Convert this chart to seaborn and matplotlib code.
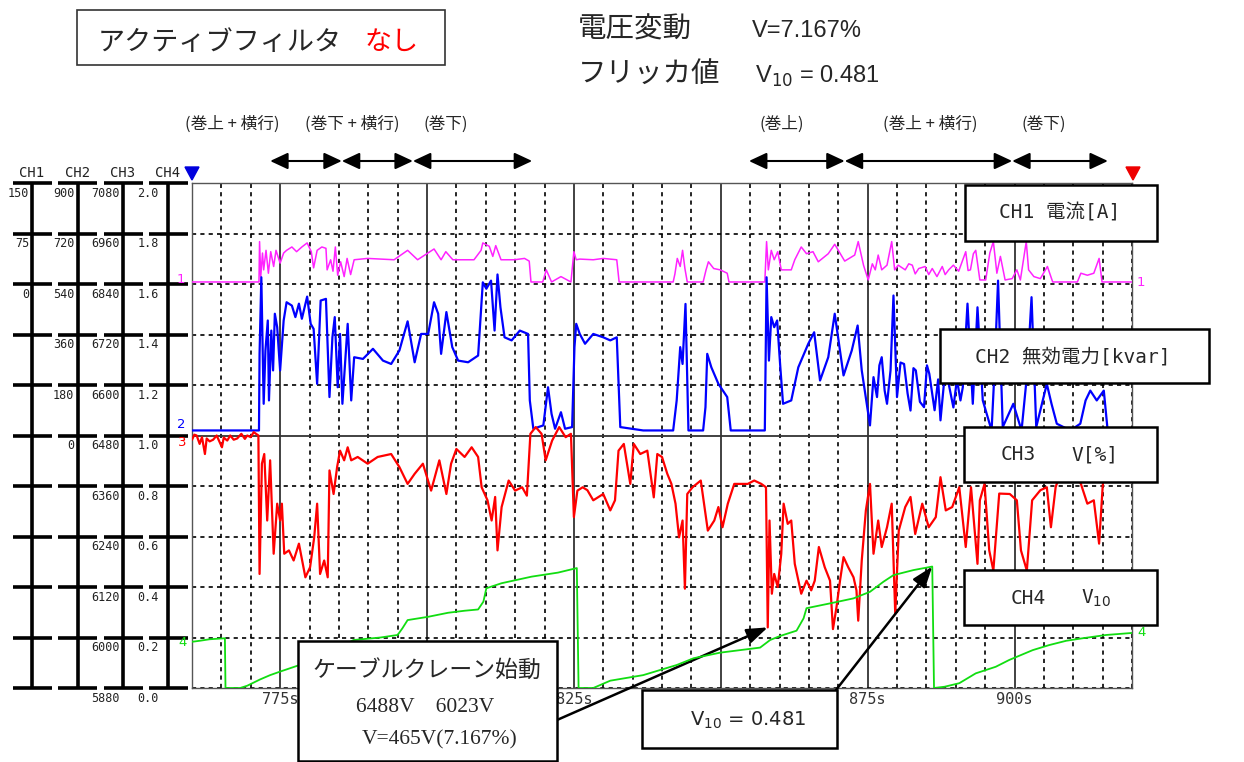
import matplotlib
matplotlib.use("Agg")
import matplotlib.pyplot as plt
import seaborn as sns
import pandas as pd
from matplotlib.patches import Rectangle, Polygon
from matplotlib.ticker import FixedLocator, MultipleLocator

# === data (time [s], value in channel unit) ===
# CH1 current [A]
ch1_points = [
    (760.0, 3), (771.4, 3), (771.5, 63), (771.7, 11), (772.0, 46), (772.2, 21), (772.6, 50),
    (773.0, 16), (773.4, 48), (773.9, 26), (774.3, 50), (775.0, 31), (775.6, 46), (776.1, 50),
    (777.0, 55), (777.8, 48), (778.7, 55), (779.6, 61), (780.3, 48), (780.7, 24), (781.3, 50),
    (782.1, 55), (782.8, 53), (783.0, 21), (783.6, 36), (784.0, 19), (784.4, 55), (784.8, 13),
    (785.3, 33), (785.9, 11), (786.4, 38), (787.0, 14), (787.6, 36), (789.9, 38), (794.4, 36),
    (796.7, 50), (798.4, 36), (801.2, 52), (802.4, 36), (803.2, 48), (804.4, 36), (808.0, 36),
    (809.2, 50), (809.5, 61), (810.6, 56), (811.2, 41), (811.7, 57), (812.6, 36), (814.9, 36),
    (816.6, 38), (817.4, 34), (817.7, 3), (819.7, 3), (820.3, 21), (820.8, 11), (821.2, 3),
    (822.8, 11), (824.5, 3), (825.0, 48), (825.4, 36), (826.0, 37), (828.3, 36), (830.0, 38),
    (832.3, 36), (832.7, 3), (841.9, 3), (842.2, 15), (842.6, 38), (843.1, 26), (843.5, 50),
    (843.9, 23), (844.3, 3), (847.0, 3), (847.5, 21), (847.9, 33), (848.8, 23), (849.9, 21),
    (851.1, 16), (851.4, 3), (857.5, 3), (857.8, 63), (858.1, 21), (858.6, 50), (859.1, 36),
    (859.7, 48), (860.3, 21), (862.0, 21), (862.6, 36), (863.7, 55), (864.6, 45), (865.7, 48),
    (866.6, 33), (868.3, 45), (869.4, 59), (871.1, 34), (872.8, 43), (873.4, 63), (874.3, 28),
    (875.1, 6), (875.8, 30), (876.3, 21), (876.8, 43), (877.4, 21), (878.3, 28), (879.1, 63),
    (879.6, 21), (880.2, 28), (881.4, 21), (882.0, 30), (882.6, 28), (883.1, 15), (883.7, 23),
    (884.8, 26), (885.4, 14), (886.0, 23), (886.8, 11), (887.7, 26), (888.2, 14), (888.8, 21),
    (889.6, 28), (890.5, 19), (891.7, 48), (892.1, 20), (892.5, 21), (893.0, 45), (893.4, 50),
    (894.1, 6), (895.1, 6), (895.8, 46), (896.4, 63), (897.0, 16), (897.6, 41), (898.4, 6),
    (899.6, 8), (900.4, 21), (901.0, 6), (902.0, 63), (902.4, 21), (903.3, 11), (904.4, 8),
    (905.6, 26), (906.5, 3), (910.7, 3), (911.3, 16), (912.4, 13), (913.5, 16), (914.4, 38),
    (914.9, 3), (920.0, 3),
]

# CH2 reactive power [kvar]
ch2_points = [
    (760.0, 18), (771.4, 18), (771.5, 291), (771.8, 564), (772.2, 113), (772.5, 303), (772.9, 410),
    (773.1, 125), (773.5, 374), (773.8, 232), (774.1, 434), (774.5, 386), (775.0, 232), (775.6, 410),
    (776.1, 475), (777.0, 463), (777.6, 422), (778.2, 470), (778.7, 416), (779.6, 495), (780.2, 398),
    (780.7, 380), (781.3, 184), (781.9, 481), (782.8, 487), (783.4, 137), (783.9, 350), (784.3, 422),
    (784.8, 172), (785.2, 362), (785.6, 113), (786.5, 398), (787.1, 125), (787.6, 279), (789.1, 273),
    (790.8, 309), (792.5, 267), (793.9, 255), (795.3, 303), (796.7, 407), (797.9, 261), (799.0, 362),
    (800.2, 362), (801.2, 475), (801.9, 434), (802.4, 291), (803.3, 440), (804.3, 315), (805.3, 267),
    (807.0, 261), (808.7, 285), (809.5, 546), (810.1, 523), (810.9, 552), (811.5, 374), (812.0, 574),
    (812.5, 457), (813.2, 350), (814.4, 339), (815.8, 374), (817.2, 362), (817.5, 125), (818.1, 24),
    (819.8, 36), (820.6, 172), (821.2, 77), (821.8, 24), (822.8, 83), (823.5, 24), (824.7, 30),
    (825.1, 315), (825.4, 398), (826.0, 362), (826.9, 327), (828.3, 362), (830.0, 350), (831.2, 339),
    (832.3, 350), (832.9, 30), (836.8, 18), (841.9, 18), (842.5, 125), (843.1, 315), (843.5, 255),
    (844.0, 469), (844.5, 18), (847.0, 18), (847.4, 101), (847.7, 291), (848.4, 243), (849.6, 184),
    (851.1, 137), (851.7, 18), (857.5, 18), (857.8, 564), (858.2, 267), (858.6, 422), (859.1, 386),
    (859.6, 410), (860.1, 255), (860.6, 113), (862.0, 125), (863.2, 243), (864.9, 327), (865.9, 368),
    (866.9, 196), (868.3, 279), (869.4, 434), (870.9, 214), (872.3, 303), (873.3, 392), (874.0, 232),
    (875.4, 36), (876.0, 208), (876.6, 137), (877.0, 250), (877.4, 279), (877.9, 160), (878.3, 113),
    (878.9, 232), (879.4, 499), (880.0, 137), (880.6, 260), (881.2, 255), (881.8, 150), (882.3, 89),
    (882.8, 240), (883.2, 232), (883.9, 120), (884.6, 101), (885.1, 250), (885.5, 220), (886.4, 90),
    (887.0, 200), (887.4, 54), (888.1, 210), (888.8, 184), (889.6, 100), (890.2, 200), (890.8, 125),
    (891.2, 172), (892.0, 470), (892.9, 113), (893.7, 457), (894.6, 125), (896.1, 18), (896.6, 232),
    (897.2, 552), (898.0, 30), (899.8, 113), (901.2, 18), (902.2, 232), (902.9, 493), (903.7, 30),
    (905.5, 184), (906.3, 113), (907.2, 42), (909.5, 18), (911.2, 42), (912.1, 125), (912.9, 160),
    (914.0, 125), (915.2, 160), (915.8, 30), (916.0, 18), (920.0, 18),
]

# CH3 line voltage [V]
ch3_points = [
    (760.0, 6470), (760.4, 6482), (760.8, 6480), (761.3, 6460), (761.7, 6476), (762.2, 6436),
    (762.5, 6473), (763.0, 6466), (763.6, 6470), (764.2, 6480), (765.1, 6452), (765.4, 6475),
    (766.0, 6468), (766.5, 6480), (767.1, 6470), (767.7, 6473), (768.4, 6484), (769.0, 6472),
    (769.4, 6480), (770.0, 6476), (770.5, 6488), (771.3, 6480), (771.5, 6151), (771.9, 6413),
    (772.3, 6436), (772.8, 6278), (773.3, 6421), (773.9, 6199), (774.5, 6318), (775.0, 6278),
    (775.3, 6318), (775.7, 6199), (776.5, 6207), (777.3, 6183), (778.2, 6223), (779.3, 6143),
    (780.1, 6167), (780.8, 6238), (781.3, 6318), (781.8, 6151), (782.5, 6183), (783.1, 6143),
    (783.4, 6397), (784.1, 6341), (784.7, 6405), (785.2, 6444), (785.9, 6421), (786.5, 6452),
    (787.1, 6421), (788.2, 6429), (789.9, 6413), (791.6, 6429), (793.9, 6436), (795.3, 6405),
    (796.7, 6365), (797.9, 6389), (799.3, 6413), (800.7, 6349), (802.1, 6421), (803.3, 6341),
    (804.1, 6413), (805.0, 6448), (806.4, 6429), (807.6, 6452), (808.7, 6429), (809.3, 6357),
    (810.3, 6326), (811.0, 6278), (811.6, 6334), (812.0, 6207), (812.7, 6310), (813.9, 6373),
    (815.0, 6349), (816.2, 6357), (817.0, 6337), (817.6, 6484), (818.5, 6500), (819.5, 6484),
    (820.2, 6421), (821.3, 6468), (822.5, 6500), (823.6, 6476), (824.5, 6484), (825.0, 6286),
    (825.6, 6349), (826.5, 6357), (827.3, 6350), (828.3, 6326), (830.0, 6341), (831.2, 6302),
    (832.0, 6326), (832.6, 6444), (833.5, 6460), (834.6, 6365), (835.2, 6460), (836.3, 6436),
    (837.5, 6444), (838.6, 6333), (839.2, 6436), (840.0, 6429), (840.9, 6389), (841.6, 6365),
    (842.3, 6318), (842.9, 6238), (843.5, 6278), (843.9, 6116), (844.3, 6341), (845.2, 6357),
    (846.6, 6373), (847.8, 6254), (848.9, 6278), (849.6, 6310), (850.3, 6262), (851.2, 6318),
    (852.3, 6365), (854.6, 6365), (855.7, 6373), (856.9, 6365), (857.7, 6357), (858.0, 6024),
    (858.3, 6278), (858.7, 6104), (859.1, 6151), (859.7, 6120), (860.3, 6199), (860.7, 6318),
    (861.4, 6270), (862.0, 6278), (862.6, 6175), (863.7, 6104), (864.6, 6135), (865.4, 6112),
    (866.0, 6135), (866.7, 6215), (867.7, 6167), (868.6, 6135), (869.1, 6020), (869.7, 6072),
    (870.3, 6135), (870.9, 6191), (871.7, 6167), (872.6, 6143), (873.1, 6112), (873.4, 6040),
    (874.0, 6183), (874.7, 6302), (875.4, 6365), (876.0, 6199), (876.8, 6278), (877.4, 6215),
    (878.3, 6262), (879.1, 6318), (879.7, 6056), (880.3, 6254), (881.4, 6310), (882.3, 6334),
    (883.1, 6246), (884.3, 6318), (885.4, 6262), (886.6, 6286), (887.4, 6381), (888.3, 6302),
    (889.4, 6310), (890.6, 6357), (891.7, 6215), (892.6, 6357), (893.7, 6175), (894.1, 6326),
    (894.9, 6365), (895.7, 6207), (896.4, 6159), (897.4, 6342), (899.2, 6341), (900.4, 6326),
    (901.1, 6207), (902.1, 6159), (903.0, 6326), (904.4, 6350), (905.5, 6357), (906.2, 6262),
    (907.0, 6357), (908.5, 6420), (910.0, 6400), (911.3, 6365), (912.4, 6318), (913.5, 6326),
    (914.4, 6223), (915.0, 6357), (915.4, 6420), (915.6, 6480), (920.0, 6480),
]

# CH4 flicker V10
ch4_points = [
    (760.0, 0.183), (761.3, 0.187), (763.0, 0.193), (765.6, 0.197), (765.7, 0.0), (768.2, 0.0),
    (769.4, 0.009), (771.6, 0.034), (773.3, 0.051), (775.0, 0.065), (777.8, 0.087), (782.0, 0.12),
    (785.0, 0.16), (787.5, 0.19), (792.1, 0.20), (795.0, 0.21), (795.8, 0.236), (796.7, 0.269),
    (800.2, 0.282), (803.6, 0.298), (806.4, 0.306), (808.7, 0.311), (809.6, 0.342), (810.1, 0.395),
    (812.7, 0.415), (817.8, 0.441), (822.3, 0.457), (825.5, 0.475), (825.8, 0.0), (828.3, 0.0),
    (831.2, 0.029), (836.8, 0.051), (842.5, 0.091), (845.4, 0.118), (849.9, 0.14), (856.7, 0.16),
    (858.4, 0.19), (860.1, 0.206), (862.9, 0.227), (864.1, 0.276), (864.6, 0.316), (869.2, 0.338),
    (872.6, 0.355), (875.4, 0.381), (877.7, 0.421), (879.4, 0.447), (882.8, 0.467), (886.0, 0.481),
    (886.3, 0.0), (888.1, 0.005), (890.6, 0.019), (893.4, 0.058), (896.8, 0.084), (899.1, 0.111),
    (903.1, 0.15), (905.9, 0.17), (908.8, 0.187), (911.6, 0.197), (915.6, 0.21), (920.0, 0.218),
]

# recorder scales (full span of the 10 divisions)
ch_limits = [(-600, 150), (-900, 900), (5880, 7080), (0.0, 2.0)]
ch_colors = ["#ff22ff", "#0000ff", "#ff0000", "#11dd11"]
ch_widths = [1.1, 1.6, 1.6, 1.3]

scale_names = ["CH1", "CH2", "CH3", "CH4"]
ch1_scale = ["150", "75", "0"]
ch2_scale = ["900", "720", "540", "360", "180", "0"]
ch3_scale = ["7080", "6960", "6840", "6720", "6600", "6480", "6360", "6240", "6120", "6000", "5880"]
ch4_scale = ["2.0", "1.8", "1.6", "1.4", "1.2", "1.0", "0.8", "0.6", "0.4", "0.2", "0.0"]

time_major = [775, 800, 825, 850, 875, 900]
time_hidden = [800, 850]   # these labels sit under the annotation boxes

motion_labels = ["(巻上 + 横行)", "(巻下 + 横行)", "(巻下)", "(巻上)", "(巻上 + 横行)", "(巻下)"]
motion_label_t = [766.8, 787.2, 803.2, 860.3, 885.6, 905.0]
motion_spans = [(773.3, 785.5), (785.5, 797.6), (797.6, 817.9),
                (854.8, 871.1), (871.1, 899.6), (899.6, 915.9)]

sns.set_style("white")
plt.rcParams["font.family"] = ["Noto Sans CJK JP", "DejaVu Sans"]
MONO = ["DejaVu Sans Mono", "Noto Sans CJK JP"]

W, H = 1244, 762
fig = plt.figure(figsize=(W / 100, H / 100), dpi=100)
fig.patch.set_facecolor("white")


def fx(x):
    return x / W


def fy(y):
    return 1 - y / H


L, R, T, B = 192, 1132, 183, 688

# === left hand scale bars ===
axl = fig.add_axes([0, fy(B), fx(L), (B - T) / H])
axl.set_xlim(0, L)
axl.set_ylim(0, 10)
axl.axis("off")
bar_x = [32, 77.5, 123, 168]
label_gap = [3, 3, 3, 9]
scales = [ch1_scale, ch2_scale, ch3_scale, ch4_scale]
for bx, gap, name, labels in zip(bar_x, label_gap, scale_names, scales):
    axl.plot([bx, bx], [0, 10], color="black", lw=2.6, solid_capstyle="butt", clip_on=False)
    for k in range(11):
        axl.plot([bx - 19.5, bx + 19.5], [k, k], color="black", lw=2.6,
                 solid_capstyle="butt", clip_on=False)
    for i, lab in enumerate(labels):
        axl.text(bx - gap, 10 - i - 0.2, lab, ha="right", va="center", fontsize=8.5,
                 family=MONO, color="#222222")
    axl.text(bx, 10.05, name, ha="center", va="bottom", fontsize=10, family=MONO, color="#222222")

# === main grid ===
ax = fig.add_axes([fx(L), fy(B), (R - L) / W, (B - T) / H])
ax.set_xlim(760, 920)
ax.set_ylim(0, 10)
ax.xaxis.set_major_locator(FixedLocator(time_major))
ax.xaxis.set_minor_locator(MultipleLocator(5))
ax.yaxis.set_major_locator(FixedLocator([5]))
ax.yaxis.set_minor_locator(MultipleLocator(1))
ax.grid(which="major", color="#333333", lw=1.3, ls="-")
ax.grid(which="minor", color="black", lw=1.2, ls=(0, (2.5, 2.5)))
ax.tick_params(which="both", length=0)
ax.tick_params(axis="y", labelleft=False)
ax.tick_params(axis="x", pad=3)
ax.set_xticklabels(["" if v in time_hidden else f"{v}s" for v in time_major],
                   fontsize=11, family=MONO, color="#333333")
for sp in ax.spines.values():
    sp.set_color("#555555")
    sp.set_linewidth(1.0)

# === channel traces, each on its own scale ===
ch_axes = []
for pts, lim, col, lw in zip([ch1_points, ch2_points, ch3_points, ch4_points],
                             ch_limits, ch_colors, ch_widths):
    axc = ax.twinx()
    df = pd.DataFrame(pts, columns=["t", "val"])
    sns.lineplot(data=df, x="t", y="val", ax=axc, color=col, lw=lw,
                 estimator=None, sort=False, legend=False)
    axc.set_ylim(*lim)
    axc.set_axis_off()
    ch_axes.append(axc)
ax.set_xlim(760, 920)

# channel markers at the plot edges
for txt, col, xl, yl in [("1", ch_colors[0], 181, 280), ("2", ch_colors[1], 181, 425),
                         ("3", ch_colors[2], 182, 442), ("4", ch_colors[3], 183, 643),
                         ("1", ch_colors[0], 1141, 282), ("4", ch_colors[3], 1142, 633)]:
    fig.text(fx(xl), fy(yl), txt, color=col, fontsize=9.5, ha="center", va="center",
             family="DejaVu Sans")

fig.add_artist(Polygon([(fx(185), fy(167)), (fx(199), fy(167)), (fx(192), fy(180))],
                       closed=True, color="#0000dd", transform=fig.transFigure))
fig.add_artist(Polygon([(fx(1126), fy(167)), (fx(1140), fy(167)), (fx(1133), fy(180))],
                       closed=True, color="#ee0000", transform=fig.transFigure))

# === crane motion arrows above the chart ===
for lab, tl in zip(motion_labels, motion_label_t):
    ax.annotate(lab, xy=(tl, fy(124)), xycoords=("data", "figure fraction"),
                ha="center", va="center", fontsize=12, annotation_clip=False)
for t0, t1 in motion_spans:
    ax.annotate("", xy=(t1, fy(161)), xycoords=("data", "figure fraction"),
                xytext=(t0, fy(161)), textcoords=("data", "figure fraction"),
                arrowprops=dict(arrowstyle="<|-|>,head_length=0.6,head_width=0.28",
                                color="black", lw=1.5, mutation_scale=18,
                                shrinkA=0, shrinkB=0),
                annotation_clip=False)


def box(x0, y0, x1, y1, lw=1.8, ec="black"):
    fig.add_artist(Rectangle((fx(x0), fy(y1)), (x1 - x0) / W, (y1 - y0) / H,
                             transform=fig.transFigure, facecolor="white",
                             edgecolor=ec, lw=lw, zorder=5))


# === header ===
box(77, 10, 445, 65, lw=1.2, ec="#333333")
fig.text(fx(98), fy(42), "アクティブフィルタ", fontsize=19.5, ha="left", va="center", zorder=6)
fig.text(fx(365), fy(42), "なし", fontsize=19.5, ha="left", va="center", color="#ff0000", zorder=6)
fig.text(fx(578), fy(30), "電圧変動", fontsize=20.5, ha="left", va="center")
fig.text(fx(752), fy(31), "V=7.167%", fontsize=17, ha="left", va="center", family="Liberation Sans")
fig.text(fx(578), fy(75), "フリッカ値", fontsize=20.5, ha="left", va="center")
fig.text(fx(755), fy(76), "V$_{10}$ = 0.481", fontsize=17, ha="left", va="center",
         family="Liberation Sans")

# === channel legend boxes ===
box(965, 185, 1157, 241)
fig.text(fx(1060), fy(213), "CH1 電流[A]", fontsize=14, ha="center", va="center", family=MONO, zorder=6)
box(940, 329, 1209, 383)
fig.text(fx(1073), fy(357), "CH2 無効電力[kvar]", fontsize=14, ha="center", va="center", family=MONO, zorder=6)
box(964, 427, 1157, 482)
fig.text(fx(1018), fy(455), "CH3", fontsize=14, ha="center", va="center", family=MONO, zorder=6)
fig.text(fx(1095), fy(455), "V[%]", fontsize=14, ha="center", va="center", family=MONO, zorder=6)
box(964, 570, 1157, 625)
fig.text(fx(1028), fy(598), "CH4", fontsize=14, ha="center", va="center", family=MONO, zorder=6)
fig.text(fx(1096), fy(598), "V$_{10}$", fontsize=14, ha="center", va="center", family=MONO, zorder=6)

# === event annotations ===
box(298, 641, 557, 761)
fig.text(fx(427), fy(670), "ケーブルクレーン始動", fontsize=16.5, ha="center", va="center", zorder=6)
fig.text(fx(425), fy(708), "6488V    6023V", fontsize=15.5, ha="center", va="center",
         family="Liberation Serif", zorder=6)
fig.text(fx(440), fy(740), "V=465V(7.167%)", fontsize=15.5, ha="center", va="center",
         family="Liberation Serif", zorder=6)
box(642, 690, 837, 748)
fig.text(fx(748), fy(720), "V$_{10}$ = 0.481", fontsize=14, ha="center", va="center",
         family="DejaVu Sans", zorder=6)

arrow_kw = dict(arrowstyle="-|>,head_length=0.7,head_width=0.25", color="black", lw=1.8,
                mutation_scale=18, shrinkA=0, shrinkB=0)
ch_axes[2].annotate("", xy=(858.0, 6024), xycoords="data",
                    xytext=(fx(557), fy(720)), textcoords="figure fraction",
                    arrowprops=arrow_kw, annotation_clip=False)
ch_axes[3].annotate("", xy=(886.0, 0.481), xycoords="data",
                    xytext=(fx(836), fy(690)), textcoords="figure fraction",
                    arrowprops=arrow_kw, annotation_clip=False)

fig.savefig("out.png", dpi=100, facecolor="white")
